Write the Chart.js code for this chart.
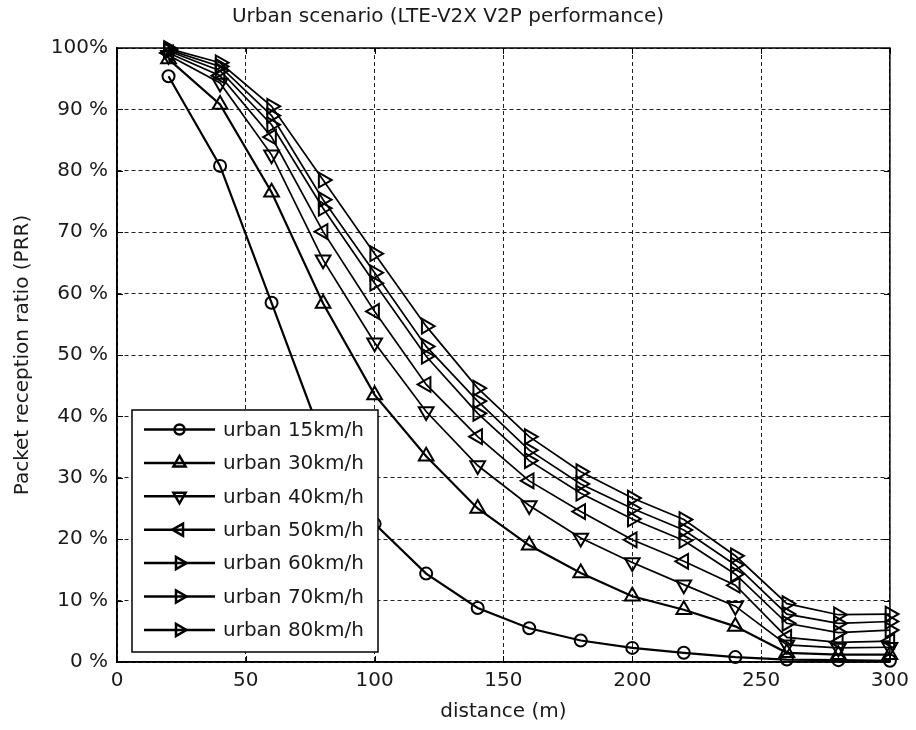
<!DOCTYPE html>
<html>
<head>
<meta charset="utf-8">
<script src="https://cdn.jsdelivr.net/npm/chart.js@4/dist/chart.umd.min.js"></script>
<style>
  body { margin: 0; background: #fff; }
  #wrap { width: 916px; height: 730px; position: relative; }
</style>
</head>
<body>
<div id="wrap"><canvas id="prr-chart"></canvas></div>
<script>
// distances (m) where PRR was sampled
const distances = [20, 40, 60, 80, 100, 120, 140, 160, 180, 200, 220, 240, 260, 280, 300];

// PRR in percent
const urban15 = [95.4, 80.8, 58.5, 36.0, 22.5, 14.4, 8.8, 5.5, 3.5, 2.3, 1.5, 0.8, 0.4, 0.3, 0.2];
const urban30 = [98.2, 90.8, 76.5, 58.4, 43.5, 33.5, 25.0, 19.0, 14.5, 10.7, 8.5, 5.8, 1.5, 1.2, 1.2];
const urban40 = [98.8, 94.3, 82.6, 65.5, 52.0, 40.8, 32.0, 25.5, 20.2, 16.2, 12.6, 9.1, 2.8, 2.3, 2.4];
const urban50 = [99.2, 95.5, 85.5, 70.1, 57.1, 45.2, 36.7, 29.5, 24.5, 19.9, 16.4, 12.5, 4.0, 3.2, 3.4];
const urban60 = [99.5, 96.3, 87.5, 73.9, 61.7, 49.8, 40.5, 32.8, 27.5, 23.3, 19.8, 14.3, 6.3, 4.8, 5.2];
const urban70 = [99.7, 97.0, 89.0, 75.3, 63.4, 51.4, 42.5, 34.5, 29.0, 25.0, 21.5, 15.8, 7.8, 6.3, 6.6];
const urban80 = [99.9, 97.6, 90.5, 78.5, 66.5, 54.7, 44.6, 36.7, 31.0, 26.7, 23.2, 17.3, 9.5, 7.7, 7.8];

const seriesLabels = ['urban 15km/h', 'urban 30km/h', 'urban 40km/h', 'urban 50km/h',
                      'urban 60km/h', 'urban 70km/h', 'urban 80km/h'];
const seriesValues = [urban15, urban30, urban40, urban50, urban60, urban70, urban80];

// marker shapes (triangle rotated to point down / left / right)
const markerStyles = ['circle', 'triangle', 'triangle', 'triangle', 'triangle', 'triangle', 'triangle'];
const markerRotations = [0, 0, 180, -90, 90, 90, 90];

const FONT = "'DejaVu Sans', sans-serif";

const datasets = seriesValues.map((vals, i) => ({
    label: seriesLabels[i],
    data: vals.map((v, j) => ({ x: distances[j], y: v })),
    borderColor: '#000',
    borderWidth: i < 2 ? 2.2 : 1.7,
    pointStyle: markerStyles[i],
    pointRotation: markerRotations[i],
    pointRadius: i === 0 ? 6 : 8.5,
    pointBorderWidth: 2,
    pointBorderColor: '#000',
    pointBackgroundColor: 'rgba(0,0,0,0)',
    tension: 0,
    clip: false
}));

// legend box inside the axes, line + marker + text like MATLAB
const boxLegend = {
    id: 'boxLegend',
    afterDatasetsDraw(chart) {
        const c = chart.ctx;
        const left = 132, top = 410, right = 378, bottom = 652;
        c.save();
        c.fillStyle = '#fff';
        c.fillRect(left, top, right - left, bottom - top);
        c.strokeStyle = '#000';
        c.lineWidth = 1.5;
        c.strokeRect(left, top, right - left, bottom - top);

        seriesLabels.forEach((lbl, i) => {
            const y = 429.5 + i * 33.4;
            c.strokeStyle = '#000';
            c.lineWidth = 2.5;
            c.beginPath();
            c.moveTo(144, y);
            c.lineTo(215, y);
            c.stroke();
            c.fillStyle = 'rgba(0,0,0,0)';
            Chart.helpers.drawPoint(c, {
                pointStyle: markerStyles[i],
                rotation: markerRotations[i],
                radius: i === 0 ? 5 : 7,
                borderWidth: 2
            }, 179.5, y);
            c.fillStyle = '#1a1a1a';
            c.font = '20px ' + FONT;
            c.textBaseline = 'middle';
            c.textAlign = 'left';
            c.fillText(lbl, 223, y + 1);
        });
        c.restore();
    }
};

// box around plot and inward tick marks
const axesBox = {
    id: 'axesBox',
    afterDraw(chart) {
        const c = chart.ctx;
        const a = chart.chartArea;
        const xs = chart.scales.x, ys = chart.scales.y;
        c.save();
        c.strokeStyle = '#000';
        c.lineWidth = 1.5;
        c.strokeRect(a.left, a.top, a.right - a.left, a.bottom - a.top);
        c.lineWidth = 1;
        c.beginPath();
        xs.ticks.forEach(t => {
            const px = Math.round(xs.getPixelForValue(t.value)) + 0.5;
            c.moveTo(px, a.bottom); c.lineTo(px, a.bottom - 6);
            c.moveTo(px, a.top); c.lineTo(px, a.top + 6);
        });
        ys.ticks.forEach(t => {
            const py = Math.round(ys.getPixelForValue(t.value)) + 0.5;
            c.moveTo(a.left, py); c.lineTo(a.left + 6, py);
            c.moveTo(a.right, py); c.lineTo(a.right - 6, py);
        });
        c.stroke();
        c.restore();
    }
};

new Chart(document.getElementById('prr-chart').getContext('2d'), {
    type: 'line',
    data: { datasets: datasets },
    options: {
        responsive: true,
        maintainAspectRatio: false,
        animation: false,
        layout: { padding: { left: 0, right: 20, top: 0, bottom: 0 } },
        plugins: {
            legend: { display: false },
            tooltip: { enabled: false },
            title: {
                display: true,
                text: 'Urban scenario (LTE-V2X V2P performance)',
                color: '#1a1a1a',
                font: { family: FONT, size: 20, weight: 'normal' },
                padding: { top: 5, bottom: 19 }
            }
        },
        scales: {
            x: {
                type: 'linear',
                min: 0,
                max: 300,
                afterFit: s => { s.height = 68; },
                ticks: {
                    stepSize: 50,
                    padding: 7,
                    color: '#1a1a1a',
                    font: { family: FONT, size: 20 }
                },
                grid: { color: '#222', lineWidth: 1, drawTicks: false },
                border: { display: true, color: '#000', width: 1.5, dash: [4, 3] },
                title: {
                    display: true,
                    text: 'distance (m)',
                    color: '#1a1a1a',
                    font: { family: FONT, size: 20 },
                    padding: { top: 6, bottom: 6 }
                }
            },
            y: {
                min: 0,
                max: 100,
                afterFit: s => { s.width = 117; },
                ticks: {
                    stepSize: 10,
                    padding: 9,
                    color: '#1a1a1a',
                    font: { family: FONT, size: 20 },
                    callback: v => v === 100 ? '100%' : v + ' %'
                },
                grid: { color: '#222', lineWidth: 1, drawTicks: false },
                border: { display: true, color: '#000', width: 1.5, dash: [4, 3] },
                title: {
                    display: true,
                    text: 'Packet reception ratio (PRR)',
                    color: '#1a1a1a',
                    font: { family: FONT, size: 20 },
                    padding: { top: 11, bottom: 11 }
                }
            }
        }
    },
    plugins: [boxLegend, axesBox]
});
</script>
</body>
</html>
